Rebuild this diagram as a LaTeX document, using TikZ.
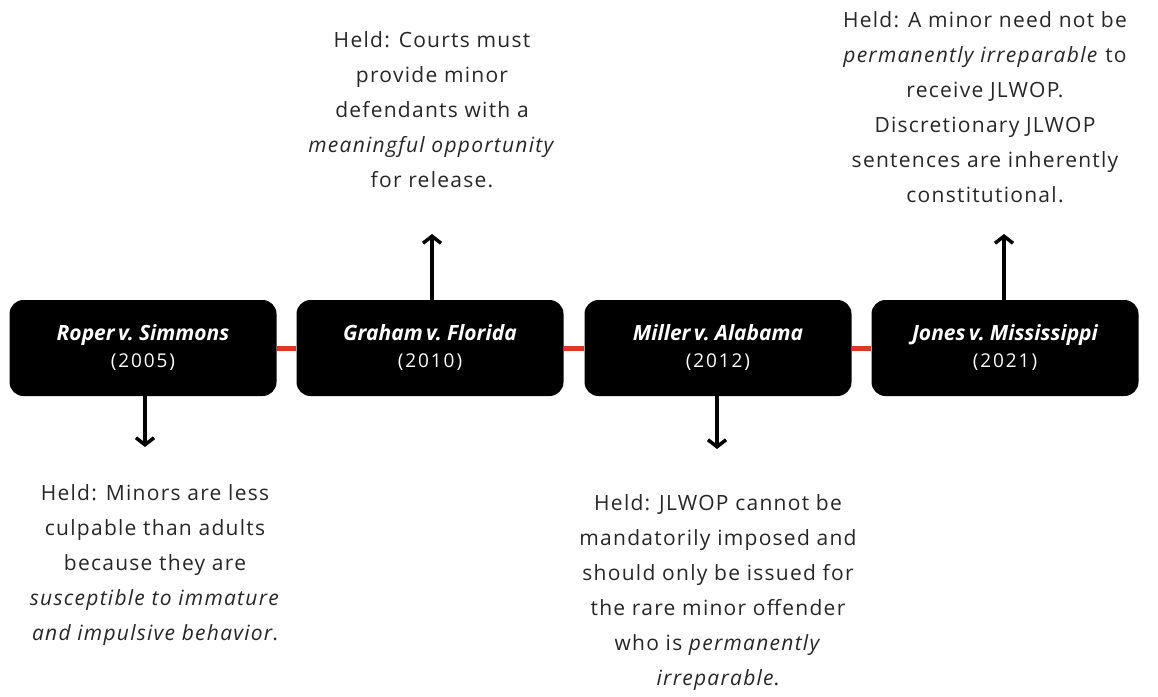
\documentclass[tikz,border=0pt]{standalone}
\usepackage{fontspec}
\setmainfont{Open Sans}
\newfontfamily\heldfont[LetterSpace=6]{Open Sans}
\newfontfamily\yearfont[LetterSpace=10]{Open Sans}
\newfontfamily\titlefont[WordSpace=0.6]{Open Sans}
\usetikzlibrary{arrows.meta}
\definecolor{tlred}{HTML}{D8392B}
\tikzset{
  case/.style={fill=black, rounded corners=14pt, minimum width=267pt, minimum height=96pt, inner sep=0pt, text=white, align=center, font=\fontsize{21}{27}\selectfont},
  held/.style={align=center, font=\heldfont\fontsize{21}{35}\selectfont, inner sep=0pt, text=black!85},
  link/.style={draw=tlred, line width=5pt},
  arr/.style={draw=black, line width=3.5pt, -{Straight Barb[length=7pt, width=18pt, line width=3.5pt]}}
}
\newcommand{\casetitle}[2]{{\titlefont\bfseries\itshape #1}\\{\yearfont\fontsize{19}{27}\selectfont #2}}
\begin{document}
\begin{tikzpicture}[x=1pt,y=-1pt]
\useasboundingbox (0,0) rectangle (1158,696);
\node[case] (c1) at (143,348) {\casetitle{Roper v. Simmons}{(2005)}};
\node[case] (c2) at (430,348) {\casetitle{Graham v. Florida}{(2010)}};
\node[case] (c3) at (718,348) {\casetitle{Miller v. Alabama}{(2012)}};
\node[case] (c4) at (1005,348) {\casetitle{Jones v. Mississippi}{(2021)}};
\draw[link] (c1.east) -- (c2.west);
\draw[link] (c2.east) -- (c3.west);
\draw[link] (c3.east) -- (c4.west);
\coordinate (a1) at (145,447);
\coordinate (a2) at (432,234);
\coordinate (a3) at (717,449);
\coordinate (a4) at (1004,234);
\draw[arr] (c1.south -| a1) -- (a1);
\draw[arr] (c2.north -| a2) -- (a2);
\draw[arr] (c3.south -| a3) -- (a3);
\draw[arr] (c4.north -| a4) -- (a4);
\node[held, anchor=north] (h2) at (432,31) {Held: Courts must\\provide minor\\defendants with a\\\textit{meaningful opportunity}\\for release.};
\node[held, anchor=north] (h4) at (985,11) {Held: A minor need not be\\\textit{permanently irreparable} to\\receive JLWOP.\\Discretionary JLWOP\\sentences are inherently\\constitutional.};
\node[held, anchor=north] (h1) at (155,484) {Held: Minors are less\\culpable than adults\\because they are\\\textit{susceptible to immature}\\\textit{and impulsive behavior}.};
\node[held, anchor=north] (h3) at (718,494) {Held: JLWOP cannot be\\mandatorily imposed and\\should only be issued for\\the rare minor offender\\who is \textit{permanently}\\\textit{irreparable}.};
\end{tikzpicture}
\end{document}
